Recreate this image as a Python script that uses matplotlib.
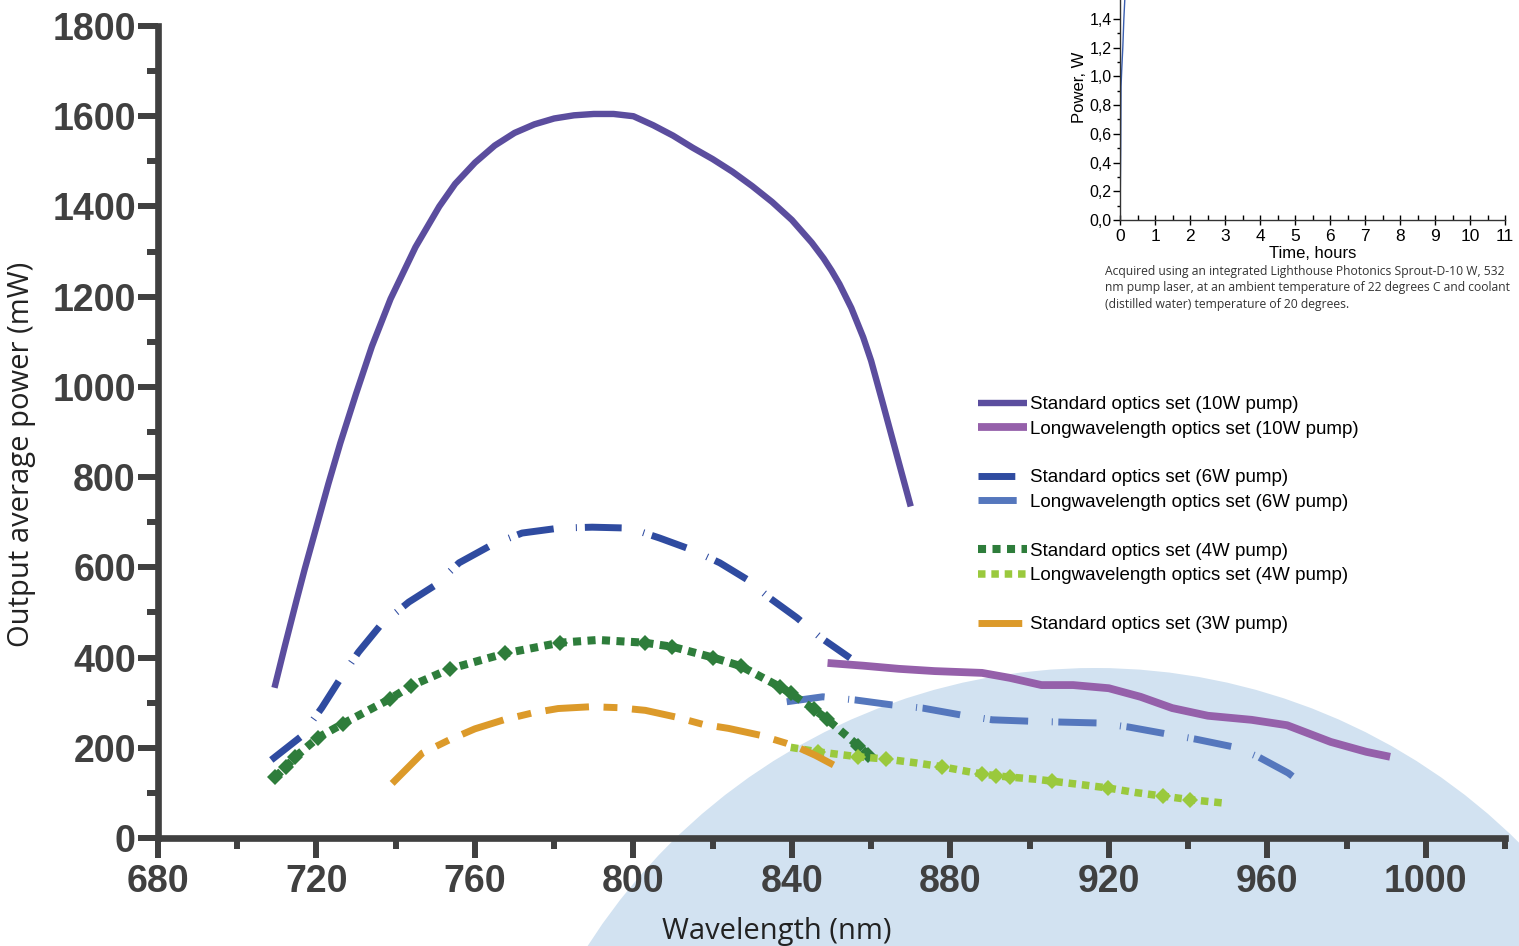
import numpy as np
import matplotlib
matplotlib.use("Agg")
import matplotlib.pyplot as plt
from matplotlib.lines import Line2D
from matplotlib.patches import Ellipse
from matplotlib.ticker import FuncFormatter

# ---- data ----
std10_x = [709.4, 712, 715, 717, 720, 723, 726, 730, 734, 738.7, 745, 751, 755, 760, 765, 770,
           775, 780, 785, 790, 795, 800, 805, 810, 815, 820, 825, 830, 835, 840, 845, 848,
           850, 852, 855, 858, 860, 863, 865, 867, 870]
std10_y = [333, 425, 528, 595, 690, 785, 875, 985, 1090, 1195, 1310, 1400, 1450, 1497, 1535, 1563,
           1582, 1595, 1602, 1605, 1605, 1600, 1580, 1557, 1530, 1505, 1477, 1445, 1410, 1370, 1320, 1285,
           1258, 1228, 1175, 1110, 1058, 962, 897, 832, 735]

long10_x = [849, 858, 867, 876, 888, 895, 903, 911, 920, 928, 936, 945, 956, 965, 976, 985, 991]
long10_y = [388, 382, 375, 370, 366, 355, 339, 339, 332, 313, 288, 271, 262, 250, 213, 191, 180]

std6_x = [708.6, 716, 721.3, 726.3, 730.6, 736.2, 743.3, 750.1, 756, 764.3, 771.9, 781.3, 789.6,
          799, 806.6, 815, 821.8, 828.9, 834.4, 841.3, 847, 854.7]
std6_y = [173, 224, 288, 357, 412, 472, 523, 561, 610, 650, 676, 687, 689,
          687, 665, 638, 610, 572, 532, 488, 446, 399]

long6_x = [838.7, 847.8, 856, 865.3, 873, 882.5, 890.6, 899.7, 907.8, 917.2, 925, 934.4, 942,
           951.4, 957.7, 965.3, 969.6]
long6_y = [302, 313, 306, 295, 288, 273, 262, 259, 257, 255, 246, 231, 219,
           202, 180, 144, 115]

std4_x = [709.6, 712.2, 714.7, 720.3, 726.6, 738.5, 743.8, 753.7, 767.5, 781.5, 791, 802.8,
          809.8, 820.1, 827.1, 837.0, 839.7, 845.6, 848.8, 856.8, 859.3]
std4_y = [135, 157, 180, 222, 253, 308, 337, 375, 409, 433, 439, 433,
          424, 400, 381, 335, 321, 285, 264, 204, 184]
std4_marks = [0, 1, 2, 3, 4, 5, 6, 7, 8, 9, 11, 12, 13, 14, 15, 16, 17, 18, 19, 20]

long4_x = [839.7, 846.6, 856.8, 863.8, 870.9, 877.9, 884.6, 888.1, 891.6, 895.0, 902.0, 905.6,
           912.4, 919.7, 926.6, 933.6, 940.5, 947.3, 949.6]
long4_y = [201, 191, 180, 175, 167, 158, 147, 142, 138, 135, 130, 126,
           119, 111, 101, 93, 85, 79, 77]
long4_marks = [1, 2, 3, 5, 7, 8, 9, 11, 13, 15, 16]

std3_x = [739.1, 746.7, 753.4, 760, 767.3, 774.4, 781, 789.3, 796, 803, 810.8, 817.5, 824,
          831.9, 838.6, 842, 846, 850.5]
std3_y = [121, 188, 217, 242, 262, 277, 287, 291, 289, 283, 268, 252, 243,
          228, 210, 199, 183, 162]

# inset: power vs time
inset_t = [0.0, 0.02, 0.03, 0.05, 0.08, 0.11, 0.15]
inset_p = [0.0, 0.5, 0.93, 1.05, 1.2, 1.4, 1.6]

labels = ["Standard optics set (10W pump)", "Longwavelength optics set (10W pump)",
          "Standard optics set (6W pump)", "Longwavelength optics set (6W pump)",
          "Standard optics set (4W pump)", "Longwavelength optics set (4W pump)",
          "Standard optics set (3W pump)"]

caption = ("Acquired using an integrated Lighthouse Photonics Sprout-D-10 W, 532\n"
           "nm pump laser, at an ambient temperature of 22 degrees C and coolant\n"
           "(distilled water) temperature of 20 degrees.")

ARIAL = "Liberation Sans"
HUMAN = "Open Sans"

W, H = 1519, 946
fig = plt.figure(figsize=(W / 100, H / 100), dpi=100)

# light blue disc in the background
fig.add_artist(Ellipse((1095 / W, 1 - 1270 / H), 2 * 602 / W, 2 * 602 / H,
                       transform=fig.transFigure, facecolor="#d2e2f1",
                       edgecolor="none", zorder=-1))

ax = fig.add_axes([158 / W, 1 - 838 / H, (1505 - 158) / W, (838 - 26) / H])
ax.set_facecolor("none")

gray = "#404040"
l1, = ax.plot(std10_x, std10_y, color="#5b4d9e", lw=4.6, solid_capstyle="butt",
              solid_joinstyle="round")
l2, = ax.plot(long10_x, long10_y, color="#9560aa", lw=5.6, solid_capstyle="butt",
              solid_joinstyle="round")
l3, = ax.plot(std6_x, std6_y, color="#2f4ba0", lw=5, ls=(0, (5.3, 3.2, 0.15, 1.15)))
l4, = ax.plot(long6_x, long6_y, color="#5577bd", lw=5, ls=(0, (5.5, 3.4, 0.15, 0.8)))
l5, = ax.plot(std4_x, std4_y, color="#2e7d3b", lw=5.8, ls=(0, (1.0, 0.8)))
ax.plot(np.array(std4_x)[std4_marks], np.array(std4_y)[std4_marks], "D",
        color="#2e7d3b", ms=8, mew=0)
l6, = ax.plot(long4_x, long4_y, color="#9ac93d", lw=5.4, ls=(0, (1.0, 0.78)))
ax.plot(np.array(long4_x)[long4_marks], np.array(long4_y)[long4_marks], "D",
        color="#9ac93d", ms=8, mew=0)
l7, = ax.plot(std3_x, std3_y, color="#dc9a2a", lw=5, ls=(0, (6.3, 2.1, 2.0, 2.1)))

ax.set_xlim(680, 1020)
ax.set_ylim(0, 1800)
ax.set_xticks(np.arange(680, 1001, 40))
ax.set_xticks(np.arange(700, 1021, 40), minor=True)
ax.set_yticks(np.arange(0, 1801, 200))
ax.set_yticks(np.arange(100, 1800, 200), minor=True)

for s in ["top", "right"]:
    ax.spines[s].set_visible(False)
for s in ["left", "bottom"]:
    ax.spines[s].set_linewidth(4.8)
    ax.spines[s].set_color(gray)

ax.tick_params(which="major", length=14.5, width=4.3, color=gray, direction="out",
               labelsize=27, labelcolor=gray, pad=1.5)
ax.tick_params(axis="x", which="major", pad=4.5)
ax.tick_params(which="minor", length=8, width=4.3, color=gray, direction="out")
for lab in ax.get_xticklabels() + ax.get_yticklabels():
    lab.set_family(ARIAL)
    lab.set_weight("bold")

ax.set_xlabel("Wavelength (nm)", family=HUMAN, fontsize=21, color="#222222")
ax.xaxis.set_label_coords(0.4595, -0.097)
ax.set_ylabel("Output average power (mW)", family=HUMAN, fontsize=21, color="#222222")
ax.yaxis.set_label_coords(-0.0906, 0.472)

blank = Line2D([], [], linestyle="none")
handles = [l1, l2, blank, l3, l4, blank, l5, l6, blank, l7]
leg_labels = [labels[0], labels[1], " ", labels[2], labels[3], " ", labels[4], labels[5], " ", labels[6]]
ax.legend(handles, leg_labels, loc="upper left", bbox_to_anchor=(978 / W, 1 - 396 / H),
          bbox_transform=fig.transFigure, frameon=False, prop={"family": ARIAL, "size": 13.5},
          handlelength=2.6, handletextpad=0.15, labelspacing=0.39, borderpad=0, borderaxespad=0)

# ---- inset ----
ins = fig.add_axes([1120 / W, 1 - 220 / H, (1505 - 1120) / W, 220 / H])
ins.set_facecolor("none")
ins.plot(inset_t, inset_p, color="#3a5fb0", lw=1)
ins.set_xlim(0, 11)
ins.set_ylim(0, 220 / 143.6)
ins.set_xticks(np.arange(0, 12, 1))
ins.set_xticks(np.arange(0.5, 11, 1), minor=True)
ins.set_yticks(np.arange(0, 1.41, 0.2))
ins.set_yticks(np.arange(0.1, 1.5, 0.2), minor=True)
ins.yaxis.set_major_formatter(FuncFormatter(lambda v, p: f"{v:.1f}".replace(".", ",")))
for s in ["top", "right"]:
    ins.spines[s].set_visible(False)
for s in ["left", "bottom"]:
    ins.spines[s].set_linewidth(1)
    ins.spines[s].set_color("#333333")
ins.tick_params(axis="x", which="major", direction="inout", length=7, width=1,
                labelsize=12.5, pad=3)
ins.tick_params(axis="x", which="minor", direction="in", length=3.5, width=1)
ins.tick_params(axis="y", which="major", direction="out", length=5, width=1,
                labelsize=11.5, pad=1)
ins.tick_params(axis="y", which="minor", direction="out", length=2.5, width=1)
for lab in ins.get_xticklabels() + ins.get_yticklabels():
    lab.set_family(ARIAL)
ins.set_xlabel("Time, hours", family=ARIAL, fontsize=12, labelpad=1.5)
ins.set_ylabel("Power, W", family=ARIAL, fontsize=12)
ins.yaxis.set_label_coords(-0.085, 0.605)

fig.text(1105 / W, 1 - 265 / H, caption, family=HUMAN, fontsize=8.7, color="#333333",
         va="top", ha="left", linespacing=1.33)

fig.savefig("out.png", dpi=100)
